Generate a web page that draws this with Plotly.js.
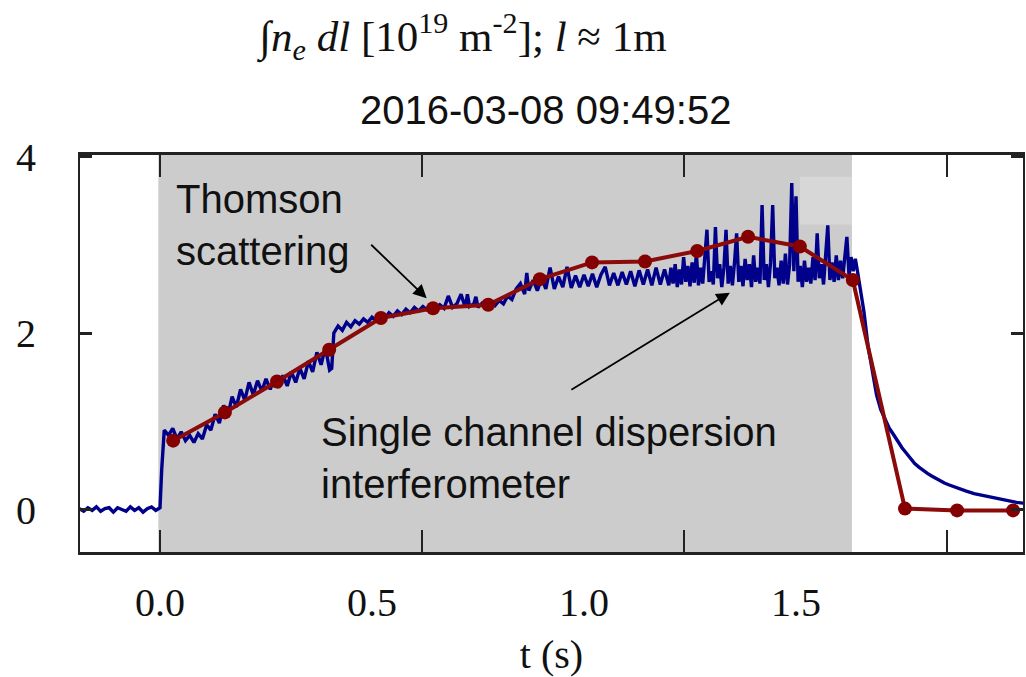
<!DOCTYPE html>
<html>
<head>
<meta charset="utf-8">
<script src="https://cdn.plot.ly/plotly-3.0.1.min.js"></script>
<style>html,body{margin:0;padding:0;background:#ffffff;}</style>
</head>
<body>
<div id="chart" style="width:1026px;height:677px;"></div>
<script>
// ---- Single channel dispersion interferometer ----
const interfT = [
  -0.19,-0.18,-0.17,-0.16,-0.15,-0.14,-0.13,-0.12,-0.11,-0.10,-0.09,-0.08,-0.07,-0.06,-0.05,-0.04,-0.03,-0.02,-0.01,0.00,
  0.004,
  0.01,0.02,0.03,0.04,0.05,0.06,0.07,0.08,0.09,0.10,0.11,0.12,0.13,0.14,0.15,0.16,0.17,0.18,0.19,0.20,
  0.21,0.22,0.23,0.24,0.25,0.26,0.27,0.28,0.29,0.30,0.31,0.32,0.33,0.34,0.35,0.36,0.37,0.38,0.39,0.40,0.405,
  0.41,0.42,0.43,0.44,0.45,0.46,0.47,0.48,0.49,0.50,0.51,0.52,0.53,0.54,0.55,0.56,0.57,0.58,0.59,0.60,
  0.61,0.62,0.63,0.64,0.65,0.66,0.67,0.68,0.69,0.70,0.71,0.72,0.725,0.73,0.74,0.745,0.75,0.76,0.77,0.78,0.79,0.80,
  0.81,0.82,0.83,0.84,
  0.85,0.86,0.865,0.87,0.88,0.89,0.90,0.91,0.92,0.93,0.94,0.95,0.96,0.97,0.98,0.99,1.00,
  1.01,1.02,1.03,1.04,1.05,1.06,1.07,1.08,1.09,1.10,1.11,1.12,1.13,1.14,1.15,1.16,1.17,1.18,1.19,
  1.200,1.205,1.210,1.215,1.220,1.225,1.230,1.235,1.240,1.245,1.250,1.255,1.260,1.265,1.270,1.275,1.280,1.285,1.290,1.295,
  1.300,1.305,1.310,1.315,1.320,1.325,1.330,1.335,1.340,1.345,1.350,1.355,1.360,1.365,1.370,1.375,1.380,1.385,1.390,1.395,
  1.400,1.405,1.410,1.415,1.420,1.425,1.430,1.435,1.440,1.445,1.450,1.455,1.460,1.465,1.470,1.475,1.480,1.485,1.490,1.495,
  1.500,1.505,1.510,1.515,1.520,1.525,1.530,1.535,1.540,1.545,1.550,1.555,1.560,1.565,1.570,1.575,1.580,1.585,1.590,1.595,
  1.600,1.605,1.610,1.615,1.620,1.625,1.630,1.635,1.640,1.645,
  1.650,1.660,1.670,1.680,1.690,1.700,1.710,1.720,1.730,1.740,1.750,1.760,1.770,1.780,1.790,1.800,
  1.810,1.820,1.830,1.840,1.850,1.860,1.880,1.900,1.920,1.940,1.960,1.980,2.000,2.020,2.040
];
const interfY = [
  0.01,-0.02,0.02,-0.01,0.03,-0.02,0.01,0.02,-0.03,0.02,0.00,-0.02,0.03,-0.01,0.02,-0.03,0.01,0.03,-0.01,0.02,
  0.45,
  0.90,0.84,0.92,0.80,0.88,0.78,0.84,0.76,0.86,0.80,0.96,0.90,1.08,0.98,1.18,1.06,1.28,1.16,1.36,1.24,
  1.44,1.30,1.46,1.34,1.48,1.36,1.49,1.38,1.52,1.40,1.56,1.44,1.60,1.48,1.68,1.56,1.78,1.64,1.84,1.58,1.60,
  2.00,2.08,2.03,2.12,2.07,2.14,2.10,2.16,2.12,2.18,2.14,2.20,2.16,2.23,2.19,2.25,2.21,2.27,2.23,2.29,
  2.25,2.30,2.26,2.31,2.27,2.32,2.28,2.42,2.29,2.33,2.44,2.29,2.44,2.30,2.33,2.41,2.29,2.34,2.30,2.35,2.31,2.37,
  2.33,2.42,2.38,2.50,
  2.56,2.44,2.68,2.48,2.60,2.48,2.62,2.50,2.74,2.50,2.64,2.52,2.75,2.51,2.65,2.52,2.66,
  2.53,2.67,2.52,2.66,2.75,2.54,2.68,2.54,2.69,2.55,2.70,2.53,2.71,2.55,2.72,2.54,2.74,2.55,2.72,
  2.54,2.74,2.56,2.78,2.52,2.72,2.55,2.86,2.58,2.76,2.53,2.80,2.57,2.90,2.54,2.74,2.56,2.82,3.17,2.58,
  2.70,2.55,3.20,2.62,2.78,2.52,2.74,3.17,2.56,2.76,2.54,2.80,3.13,2.58,2.76,2.53,2.84,2.60,2.78,2.52,
  2.88,2.58,2.74,2.56,3.45,2.60,2.78,2.52,2.80,3.45,2.62,2.74,2.54,2.82,2.56,2.90,2.55,2.78,3.70,2.70,
  3.55,2.58,2.76,2.52,2.82,2.58,2.74,2.56,2.86,2.60,3.13,2.62,2.78,2.55,2.84,3.22,2.60,2.80,2.58,2.88,
  2.60,2.82,2.62,2.90,3.09,2.66,2.86,2.70,2.84,2.70,
  2.55,2.25,1.85,1.55,1.30,1.13,1.02,0.92,0.85,0.77,0.70,0.64,0.58,0.52,0.48,0.44,
  0.41,0.38,0.35,0.33,0.30,0.28,0.24,0.21,0.18,0.16,0.14,0.12,0.10,0.08,0.07
];

// ---- Thomson scattering ----
const thomsonT = [0.031,0.153,0.276,0.399,0.521,0.644,0.774,0.896,1.019,1.144,1.267,1.387,1.509,1.634,1.757,1.880,2.012];
const thomsonY = [0.78,1.10,1.45,1.81,2.17,2.28,2.32,2.61,2.80,2.81,2.93,3.09,2.98,2.60,0.01,-0.01,-0.01];

// ---- axes / labels ----
const xLabelVals = [0, 0.5, 1.0, 1.5];
const xLabelText = ['0.0', '0.5', '1.0', '1.5'];
const xTickMarkVals = [0, 0.618, 1.236, 1.856];
const yTickVals = [0, 2, 4];
const yTickText = ['0', '2', '4'];
const flatTop = [-0.004, 1.632];
const xRange = [-0.1887, 2.0354];
const yRange = [-0.4816, 4.017];

const serif = 'Liberation Serif, Times New Roman, serif';
const sans = 'Liberation Sans, Arial, sans-serif';

const traces = [
  {
    x: interfT, y: interfY, type: 'scatter', mode: 'lines',
    xaxis: 'x', yaxis: 'y',
    line: {color: '#00008a', width: 3.4},
    hoverinfo: 'skip', showlegend: false
  },
  {
    x: thomsonT, y: thomsonY, type: 'scatter', mode: 'lines+markers',
    xaxis: 'x2', yaxis: 'y',
    line: {color: '#8b0a0a', width: 4},
    marker: {color: '#850000', size: 14},
    hoverinfo: 'skip', showlegend: false
  }
];

const layout = {
  width: 1026, height: 677,
  margin: {l: 80, r: 3, t: 155, b: 125, pad: 0},
  paper_bgcolor: '#ffffff', plot_bgcolor: '#ffffff',
  showlegend: false,
  title: {
    text: '\u222B<i>n</i><sub><i>e</i></sub> <i>dl</i> [10<sup>19</sup> m<sup>-2</sup>]; <i>l</i> \u2248 1m',
    font: {family: serif, size: 43, color: '#111'},
    xref: 'container', yref: 'container',
    x: 463 / 1026, xanchor: 'center',
    y: 1 - 36 / 677, yanchor: 'middle'
  },
  xaxis: {
    range: xRange, autorange: false,
    tickmode: 'array', tickvals: xTickMarkVals, showticklabels: false,
    ticks: 'inside', ticklen: 22, tickwidth: 2, tickcolor: '#222',
    showline: true, linewidth: 3, linecolor: '#222', mirror: 'ticks',
    showgrid: false, zeroline: false,
    title: {text: 't (s)', font: {family: serif, size: 40, color: '#111'}, standoff: 86}
  },
  xaxis2: {
    range: xRange, autorange: false,
    overlaying: 'x', anchor: 'y', side: 'bottom',
    tickmode: 'array', tickvals: xLabelVals, ticktext: xLabelText,
    ticks: '', showline: false, showgrid: false, zeroline: false,
    tickfont: {family: serif, size: 40, color: '#111'},
    ticklabelstandoff: 23
  },
  yaxis: {
    range: yRange, autorange: false,
    tickmode: 'array', tickvals: yTickVals, ticktext: yTickText,
    ticks: 'inside', ticklen: 12, tickwidth: 3, tickcolor: '#222',
    showline: true, linewidth: 2, linecolor: '#222', mirror: 'ticks',
    showgrid: false, zeroline: false,
    tickfont: {family: serif, size: 40, color: '#111'},
    ticklabelstandoff: 34
  },
  shapes: [
    {type: 'rect', xref: 'x', yref: 'paper', x0: flatTop[0], x1: flatTop[1], y0: 0, y1: 1,
     fillcolor: '#cccccc', line: {width: 0}, layer: 'below'},
    {type: 'rect', xref: 'x', yref: 'y', x0: 1.509, x1: flatTop[1], y0: 3.23, y1: 3.77,
     fillcolor: '#d7d7d7', line: {width: 0}, layer: 'below'}
  ],
  annotations: [
    {text: '2016-03-08 09:49:52', xref: 'paper', yref: 'paper',
     x: (545 - 80) / 943, y: (552 - 110) / 397, xanchor: 'center', yanchor: 'middle',
     showarrow: false, font: {family: sans, size: 40, color: '#111'}},
    {text: 'Thomson<br>scattering', xref: 'x', yref: 'y', x: 0.033, y: 3.22,
     xanchor: 'left', yanchor: 'middle', align: 'left', showarrow: false,
     font: {family: sans, size: 40, color: '#111'}},
    {text: 'Single channel dispersion<br>interferometer', xref: 'x', yref: 'y', x: 0.375, y: 0.58,
     xanchor: 'left', yanchor: 'middle', align: 'left', showarrow: false,
     font: {family: sans, size: 40, color: '#111'}},
    {text: '', xref: 'x', yref: 'y', x: 0.629, y: 2.393, ax: -57, ay: -55,
     showarrow: true, arrowhead: 2, arrowsize: 1.5, arrowwidth: 1.8, arrowcolor: '#000'},
    {text: '', xref: 'x', yref: 'y', x: 1.344, y: 2.457, ax: -160, ay: 98,
     showarrow: true, arrowhead: 2, arrowsize: 1.5, arrowwidth: 1.8, arrowcolor: '#000'}
  ]
};

Plotly.newPlot('chart', traces, layout, {displayModeBar: false, staticPlot: true});
</script>
</body>
</html>
